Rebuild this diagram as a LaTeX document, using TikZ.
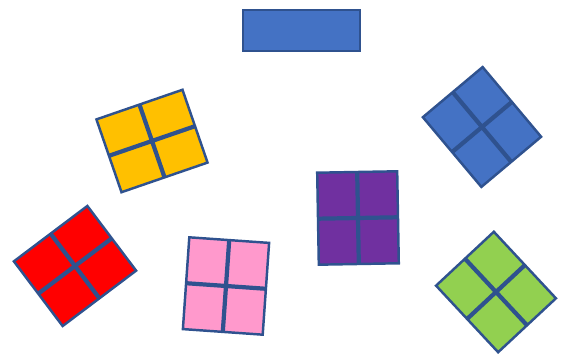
\documentclass[tikz,border=0pt]{standalone}
\usetikzlibrary{positioning}

\definecolor{tileline}{HTML}{2F528F}
\definecolor{tileblue}{HTML}{4472C4}
\definecolor{tileyellow}{HTML}{FFC000}
\definecolor{tilepurple}{HTML}{7030A0}
\definecolor{tilered}{HTML}{FF0000}
\definecolor{tilepink}{HTML}{FF99CC}
\definecolor{tilegreen}{HTML}{92D050}

\begin{document}
\begin{tikzpicture}[
    x=0.02cm, y=0.02cm,
    cell/.style={draw=tileline, line width=1.4pt, line join=miter},
    divider/.style={draw=tileline, line width=2.4pt},
    bar/.style={draw=tileline, line width=1.4pt, fill=tileblue},
  ]
  \useasboundingbox (0,0) rectangle (565,354);

  % --- Top bar ---
  \draw[bar] (243,303) rectangle (360,344);

  % --- Yellow tile ---
  \begin{scope}[shift={(152,213)}, rotate=19, xscale=45.5, yscale=38.5]
    \fill[tileyellow] (-1,-1) rectangle (1,1);
    \draw[divider] (0,-1) -- (0,1) (-1,0) -- (1,0);
    \draw[cell] (-1,-1) rectangle (1,1);
  \end{scope}

  % --- Blue tile ---
  \begin{scope}[shift={(482,227)}, rotate=40, xscale=39, yscale=45.5]
    \fill[tileblue] (-1,-1) rectangle (1,1);
    \draw[divider] (0,-1) -- (0,1) (-1,0) -- (1,0);
    \draw[cell] (-1,-1) rectangle (1,1);
  \end{scope}

  % --- Purple tile ---
  \begin{scope}[shift={(358,136)}, rotate=1, xscale=40, yscale=46]
    \fill[tilepurple] (-1,-1) rectangle (1,1);
    \draw[divider] (0,-1) -- (0,1) (-1,0) -- (1,0);
    \draw[cell] (-1,-1) rectangle (1,1);
  \end{scope}

  % --- Red tile ---
  \begin{scope}[shift={(75,88)}, rotate=37, xscale=46, yscale=40.5]
    \fill[tilered] (-1,-1) rectangle (1,1);
    \draw[divider] (0,-1) -- (0,1) (-1,0) -- (1,0);
    \draw[cell] (-1,-1) rectangle (1,1);
  \end{scope}

  % --- Pink tile ---
  \begin{scope}[shift={(226,68)}, rotate=-4, xscale=40, yscale=46]
    \fill[tilepink] (-1,-1) rectangle (1,1);
    \draw[divider] (0,-1) -- (0,1) (-1,0) -- (1,0);
    \draw[cell] (-1,-1) rectangle (1,1);
  \end{scope}

  % --- Green tile ---
  \begin{scope}[shift={(496,62)}, rotate=43, xscale=39.5, yscale=45.5]
    \fill[tilegreen] (-1,-1) rectangle (1,1);
    \draw[divider] (0,-1) -- (0,1) (-1,0) -- (1,0);
    \draw[cell] (-1,-1) rectangle (1,1);
  \end{scope}

\end{tikzpicture}
\end{document}
